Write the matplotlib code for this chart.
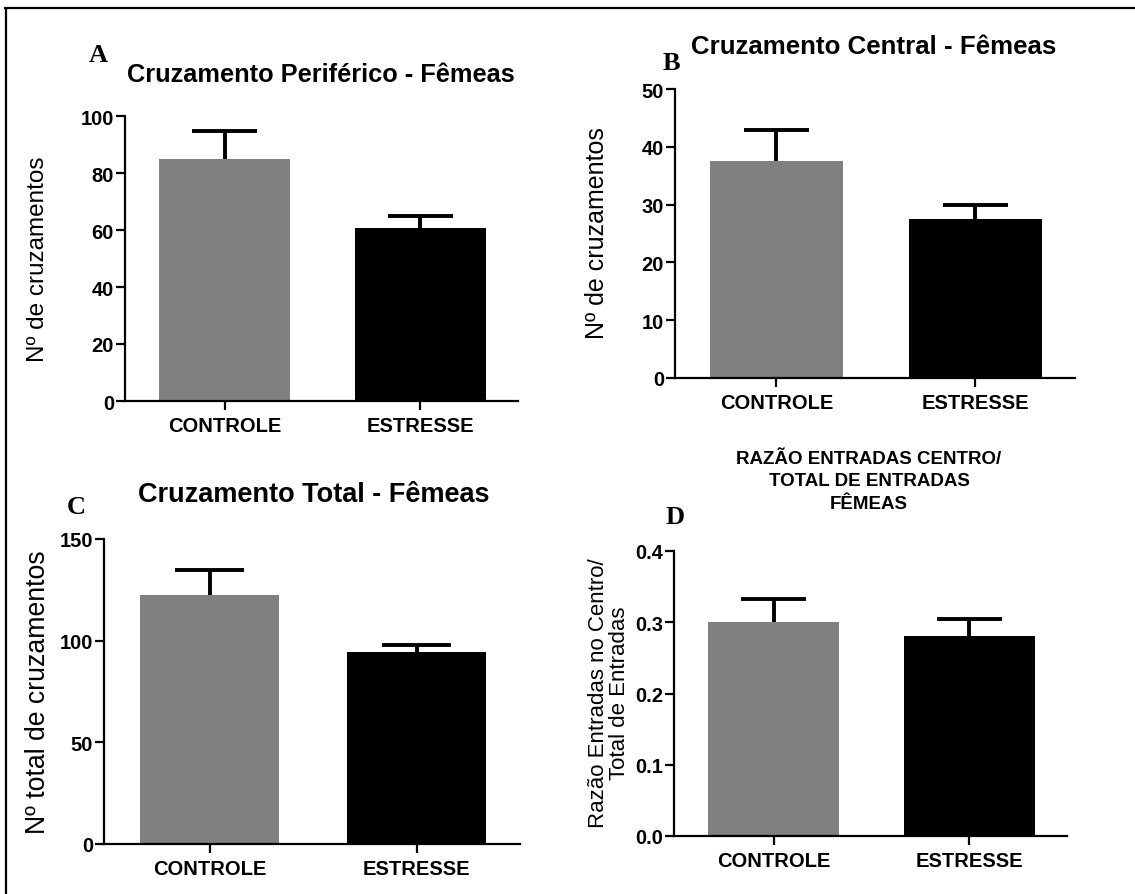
import matplotlib
matplotlib.use("Agg")
import matplotlib.pyplot as plt
from matplotlib.lines import Line2D

W, H = 1135, 895

grupos = ["CONTROLE", "ESTRESSE"]
cores = ["#808080", "#000000"]

# A - cruzamento periférico
media_a = [85.0, 60.8]
erro_a = [9.8, 4.0]
# B - cruzamento central
media_b = [37.6, 27.5]
erro_b = [5.3, 2.4]
# C - cruzamento total
media_c = [122.6, 94.6]
erro_c = [12.3, 3.5]
# D - razão centro/total
media_d = [0.301, 0.281]
erro_d = [0.032, 0.023]

plt.rcParams["font.family"] = ["Liberation Sans", "DejaVu Sans"]


def px(x, y):
    return x / W, 1 - y / H


def painel(fig, caixa, media, erro, ymax, passo, fmt="{:g}"):
    x0, y0, x1, y1 = caixa
    ax = fig.add_axes([x0 / W, 1 - y1 / H, (x1 - x0) / W, (y1 - y0) / H])
    pos = [0, 1]
    ax.bar(pos, media, width=0.67, color=cores, zorder=2)
    # só a barra de erro superior (SEM)
    for p, m, e in zip(pos, media, erro):
        ax.vlines(p, m, m + e, color="black", lw=2.8, zorder=3)
        ax.hlines(m + e, p - 0.165, p + 0.165, color="black", lw=2.8, zorder=3)
    ax.set_xlim(-0.51, 1.5)
    ax.set_ylim(0, ymax)
    ticks = [i * passo for i in range(int(round(ymax / passo)) + 1)]
    ax.set_yticks(ticks)
    ax.set_yticklabels([fmt.format(t) for t in ticks])
    ax.set_xticks(pos)
    ax.set_xticklabels(grupos)
    for s in ["top", "right"]:
        ax.spines[s].set_visible(False)
    for s in ["left", "bottom"]:
        ax.spines[s].set_linewidth(1.6)
    ax.tick_params(axis="both", width=1.6, length=6.5, labelsize=14.5)
    ax.tick_params(axis="x", pad=4)
    ax.tick_params(axis="y", pad=1.5)
    for lab in ax.get_xticklabels() + ax.get_yticklabels():
        lab.set_fontweight("bold")
    return ax


fig = plt.figure(figsize=(W / 100, H / 100), dpi=100)

painel(fig, (125, 117, 518, 402), media_a, erro_a, 100, 20)
painel(fig, (675, 90, 1075, 379), media_b, erro_b, 50, 10)
painel(fig, (104, 540, 520, 845), media_c, erro_c, 150, 50)
painel(fig, (674, 552, 1067, 837), media_d, erro_d, 0.4, 0.1, fmt="{:.1f}")

# títulos
titulo = dict(fontweight="bold", ha="center", va="center")
fig.text(*px(321, 75), "Cruzamento Periférico - Fêmeas", fontsize=18.3, **titulo)
fig.text(*px(874, 47), "Cruzamento Central - Fêmeas", fontsize=18.6, **titulo)
fig.text(*px(314, 495), "Cruzamento Total - Fêmeas", fontsize=19.5, **titulo)
fig.text(*px(869, 482), "RAZÃO ENTRADAS CENTRO/\nTOTAL DE ENTRADAS\nFÊMEAS",
         fontsize=13.5, linespacing=1.45, **titulo)

# rótulos do eixo y
rot = dict(rotation=90, ha="center", va="center")
fig.text(*px(38, 259), "Nº de cruzamentos", fontsize=17.5, **rot)
fig.text(*px(597, 233), "Nº de cruzamentos", fontsize=18, **rot)
fig.text(*px(38, 692), "Nº total de cruzamentos", fontsize=19.2, **rot)
fig.text(*px(609, 693), "Razão Entradas no Centro/\nTotal de Entradas",
         fontsize=16, linespacing=1.0, **rot)

# letras dos painéis
letra = dict(family="Liberation Serif", fontweight="bold", fontsize=19,
             ha="center", va="center")
fig.text(*px(98, 56), "A", **letra)
fig.text(*px(671, 63), "B", **letra)
fig.text(*px(76, 507), "C", **letra)
fig.text(*px(675, 518), "D", **letra)

# moldura superior e esquerda
fig.add_artist(Line2D([5 / W, 1], [1 - 9 / H] * 2, color="black", lw=1.6,
                      transform=fig.transFigure))
fig.add_artist(Line2D([6 / W] * 2, [1 - 9 / H, 0], color="black", lw=1.6,
                      transform=fig.transFigure))

fig.savefig("out.png", dpi=100)
